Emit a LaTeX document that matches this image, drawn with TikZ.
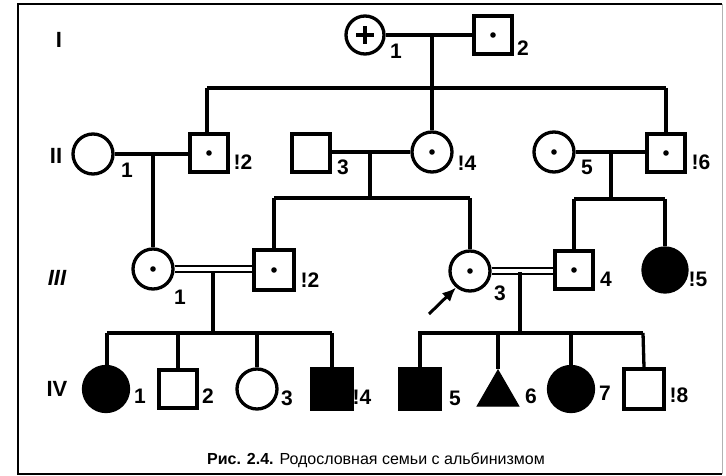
\documentclass[tikz,border=0pt]{standalone}
\usepackage{fontspec}
\setmainfont{Liberation Sans}
\usetikzlibrary{shapes.geometric,arrows.meta}
\begin{document}
\begin{tikzpicture}[x=1pt,y=-1pt,
  ln/.style={line width=3.3pt},
  dbl/.style={line width=2.2pt,double,double distance=3.2pt},
  fem/.style={circle,draw,line width=3.3pt,minimum size=40pt,inner sep=0pt},
  mal/.style={rectangle,draw,line width=3.3pt,minimum size=38pt,inner sep=0pt},
  aff/.style={fill=black},
  carrier/.style={path picture={\fill (path picture bounding box.center) circle (2.8pt);}},
  lab/.style={font=\fontsize{21}{21}\selectfont\bfseries,inner sep=0pt},
  gen/.style={font=\fontsize{22}{22}\selectfont\bfseries,inner sep=0pt}
]
\useasboundingbox (0,0) rectangle (726,476);
% frame
\draw[line width=2.2pt] (722,4) -- (18,4) -- (18,474) -- (722,474);
\draw[line width=0.8pt,black!30] (722,4) -- (722,474);

% generation labels
\node[gen] (gI) at (59,40) {I};
\node[gen] (gII) at (56,156) {II};
\node[gen,font=\fontsize{22}{22}\selectfont\bfseries\itshape] (gIII) at (57,278) {III};
\node[gen] (gIV) at (57,389) {IV};

% ---------- generation I
\node[fem,minimum size=38pt] (I1) at (365,35) {};
\draw[ln] ([xshift=-9pt]I1.center) -- ([xshift=9pt]I1.center)
          ([yshift=-9pt]I1.center) -- ([yshift=9pt]I1.center);
\node[mal,carrier] (I2) at (493,35) {};
\node[lab] (lI1) at (396,51) {1};
\node[lab] (lI2) at (523,48) {2};
\draw[ln] (I1.east) -- (I2.west);
\coordinate (mI) at (432,35);
\coordinate (sIa) at (207,88);
\coordinate (sIb) at (666,88);
\draw[ln] (mI) -- (mI |- sIa);
\draw[ln] (sIa) -- (sIb);

% ---------- generation II
\node[fem] (II1) at (93,154) {};
\node[mal,carrier] (II2) at (209,153) {};
\node[mal] (II3) at (311,153) {};
\node[fem,carrier] (II4) at (432,152) {};
\node[fem,carrier] (II5) at (554,152) {};
\node[mal,carrier] (II6) at (666,153) {};
\node[lab] (lII1) at (127,170) {1};
\node[lab] (lII2) at (243,162) {!2};
\node[lab] (lII3) at (343,167) {3};
\node[lab] (lII4) at (467,163) {!4};
\node[lab] (lII5) at (587,167) {5};
\node[lab] (lII6) at (701,162) {!6};
\draw[ln] (sIa) -- (II2.north -| sIa);
\draw[ln] (II4.north) -- (II4.north |- sIa);
\draw[ln] (sIb) -- (II6.north);
\draw[ln] (II1.east) -- (II1.east -| II2.west);
\draw[ln] (II3.east |- II4.west) -- (II4.west);
\draw[ln] (II5.east) -- (II5.east -| II6.west);

% descents from generation II
\coordinate (mII1) at (153,154);
\coordinate (mII2) at (370,152);
\coordinate (sIIa) at (274,198);
\coordinate (sIIb) at (470,198);
\coordinate (mII3) at (611,152);
\coordinate (sIIc) at (574,199);
\coordinate (sIId) at (665,199);

% ---------- generation III
\node[fem,carrier] (III1) at (153,269) {};
\node[mal,minimum size=40pt,carrier] (III2) at (274,270) {};
\node[fem,carrier] (III3) at (470,271) {};
\node[mal,carrier] (III4) at (574,270) {};
\node[fem,aff,minimum size=44pt] (III5) at (665,270) {};
\node[lab] (lIII1) at (180,297) {1};
\node[lab] (lIII2) at (310,280) {!2};
\node[lab] (lIII3) at (500,293) {3};
\node[lab] (lIII4) at (606,279) {4};
\node[lab] (lIII5) at (698,279) {!5};

\draw[ln] (mII1) -- (III1.north);
\draw[ln] (mII2) -- (mII2 |- sIIa);
\draw[ln] (sIIa) -- (sIIb);
\draw[ln] (sIIa) -- (III2.north);
\draw[ln] (sIIb) -- (III3.north);
\draw[ln] (mII3) -- (mII3 |- sIIc);
\draw[ln] (sIIc) -- (sIId);
\draw[ln] (sIIc) -- (III4.north);
\draw[ln] (sIId) -- (III5.north);

% consanguineous marriages
\draw[dbl] (III1.east) -- (III1.east -| III2.west);
\draw[dbl] (III3.east) -- (III3.east -| III4.west);

% proband arrow
\coordinate (arr) at (429,314);
\draw[line width=3pt,-{Latex[length=14pt,width=12pt]}] (arr) -- (III3.230);

\coordinate (mIII1) at (213,271);
\coordinate (sIIIa) at (107,333);
\coordinate (sIIIb) at (332,333);
\coordinate (mIII2) at (520,272);
\coordinate (sIIIc) at (418,333);
\coordinate (sIIId) at (643,333);

% ---------- generation IV
\node[fem,aff,minimum size=45pt] (IV1) at (106,389) {};
\node[mal] (IV2) at (178,389) {};
\node[fem] (IV3) at (257,389) {};
\node[mal,aff,minimum size=40pt] (IV4) at (332,389) {};
\node[mal,aff,minimum size=41pt] (IV5) at (420,389) {};
\node[regular polygon,regular polygon sides=3,fill=black,draw,line width=1pt,
      minimum size=48pt,inner sep=0pt,anchor=north] (IV6) at (498,369) {};
\node[fem,aff,minimum size=45pt] (IV7) at (571,389) {};
\node[mal,minimum size=40pt] (IV8) at (644,389) {};
\node[lab] (lIV1) at (140,396) {1};
\node[lab] (lIV2) at (208,396) {2};
\node[lab] (lIV3) at (287,398) {3};
\node[lab] (lIV4) at (362,397) {!4};
\node[lab] (lIV5) at (455,398) {5};
\node[lab] (lIV6) at (531,396) {6};
\node[lab] (lIV7) at (605,393) {7};
\node[lab] (lIV8) at (679,395) {!8};

\draw[ln] (mIII1) -- (mIII1 |- sIIIa);
\draw[ln] (sIIIa) -- (sIIIb);
\draw[ln] (mIII2) -- (mIII2 |- sIIIc);
\draw[ln] (sIIIc) -- (sIIId);
\draw[ln] (sIIIa) -- (IV1.north -| sIIIa);
\draw[ln] (IV2.north |- sIIIa) -- (IV2.north);
\draw[ln] (IV3.north |- sIIIa) -- (IV3.north);
\draw[ln] (sIIIb) -- (IV4.north);
\draw[ln] (IV5.north |- sIIIc) -- (IV5.north);
\draw[ln] (IV6.north |- sIIIc) -- (IV6.north);
\draw[ln] (IV7.north |- sIIIc) -- (IV7.north);
\draw[ln] (sIIId) -- (IV8.north);

% caption
\node[font=\fontsize{16}{16}\selectfont,inner sep=0pt] (cap) at (376,460)
  {\textbf{Рис. 2.4.} Родословная семьи с альбинизмом};
\end{tikzpicture}
\end{document}
